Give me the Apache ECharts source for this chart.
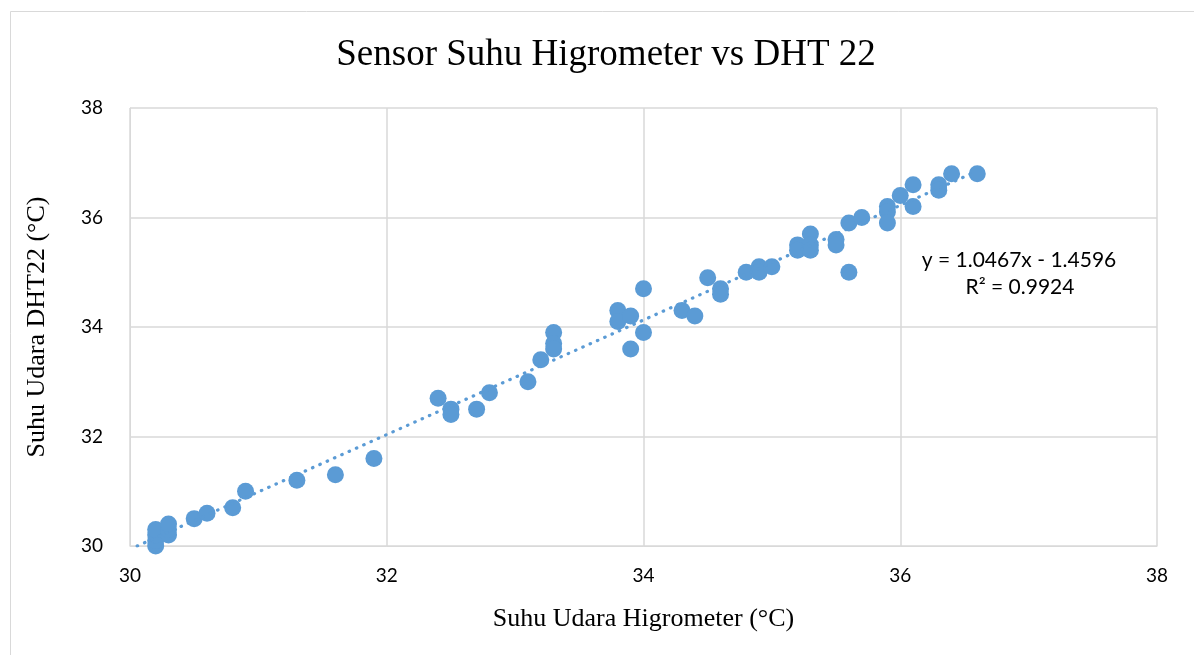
<!DOCTYPE html>
<html>
<head>
<meta charset="utf-8">
<script src="https://cdn.jsdelivr.net/npm/echarts@6/dist/echarts.min.js"></script>
<style>
  html, body { margin: 0; padding: 0; background: #fff; }
  #chart { width: 1194px; height: 655px; }
</style>
</head>
<body>
<div id="chart"></div>
<script>
// hygrometer readings (x) vs DHT22 readings (y), in °C
var higrometer = [
    30.2, 30.2, 30.2, 30.2, 30.3, 30.3, 30.3, 30.5, 30.6, 30.8, 30.9, 31.3, 31.6, 31.9,
    32.4, 32.5, 32.5, 32.7, 32.8, 33.1, 33.2, 33.3, 33.3, 33.3, 33.8, 33.8, 33.9, 33.9,
    34.0, 34.0, 34.3, 34.4, 34.5, 34.6, 34.6, 34.8, 34.9, 34.9, 35.0, 35.2, 35.2, 35.3,
    35.3, 35.3, 35.5, 35.5, 35.6, 35.6, 35.7, 35.9, 35.9, 35.9, 36.0, 36.1, 36.1, 36.3,
    36.3, 36.4, 36.6
];
var dht22 = [
    30.0, 30.1, 30.2, 30.3, 30.2, 30.3, 30.4, 30.5, 30.6, 30.7, 31.0, 31.2, 31.3, 31.6,
    32.7, 32.5, 32.4, 32.5, 32.8, 33.0, 33.4, 33.9, 33.7, 33.6, 34.3, 34.1, 34.2, 33.6,
    33.9, 34.7, 34.3, 34.2, 34.9, 34.7, 34.6, 35.0, 35.1, 35.0, 35.1, 35.5, 35.4, 35.7,
    35.5, 35.4, 35.6, 35.5, 35.0, 35.9, 36.0, 36.2, 36.1, 35.9, 36.4, 36.6, 36.2, 36.6,
    36.5, 36.8, 36.8
];
// linear trendline as printed on the chart
var trendSlope = 1.0467;
var trendIntercept = -1.4596;
var trendR2 = 0.9924;
var axisTicks = [30, 32, 34, 36, 38];

var points = higrometer.map(function (x, i) { return [x, dht22[i]]; });
var xStart = (axisTicks[0] - trendIntercept) / trendSlope;
var xEnd = Math.max.apply(null, higrometer);
var trendLine = [
    [xStart, trendSlope * xStart + trendIntercept],
    [xEnd, trendSlope * xEnd + trendIntercept]
];

var serif = '"Liberation Serif", "Times New Roman", serif';
var sans = 'Lato, "Open Sans", sans-serif';

var chart = echarts.init(document.getElementById('chart'));
chart.setOption({
    animation: false,
    backgroundColor: '#fff',
    title: {
        text: 'Sensor Suhu Higrometer vs DHT 22',
        left: 601,
        textAlign: 'center',
        top: 32,
        textStyle: { fontFamily: serif, fontSize: 37, fontWeight: 'normal', color: '#000' }
    },
    grid: { left: 130, right: 37, top: 108, bottom: 109 },
    xAxis: {
        type: 'value',
        min: axisTicks[0], max: axisTicks[axisTicks.length - 1], interval: 2,
        name: 'Suhu Udara Higrometer (°C)',
        nameLocation: 'middle',
        nameGap: 60,
        nameTextStyle: { fontFamily: serif, fontSize: 26, color: '#000' },
        axisLine: { lineStyle: { color: '#d9d9d9', width: 1 } },
        axisTick: { show: false },
        axisLabel: { fontFamily: sans, fontSize: 19, color: '#000', margin: 20 },
        splitLine: { show: true, lineStyle: { color: '#d9d9d9', width: 1.5 } }
    },
    yAxis: {
        type: 'value',
        min: axisTicks[0], max: axisTicks[axisTicks.length - 1], interval: 2,
        name: 'Suhu Udara DHT22 (°C)',
        nameLocation: 'middle',
        nameGap: 80,
        nameTextStyle: { fontFamily: serif, fontSize: 26, color: '#000' },
        axisLine: { show: true, lineStyle: { color: '#d9d9d9', width: 1 } },
        axisTick: { show: false },
        axisLabel: { fontFamily: sans, fontSize: 19, color: '#000', margin: 27 },
        splitLine: { show: true, lineStyle: { color: '#d9d9d9', width: 1.5 } }
    },
    graphic: [
        {
            type: 'rect',
            shape: { x: 10.5, y: 11.5, width: 1200, height: 700 },
            style: { fill: 'none', stroke: '#d9d9d9', lineWidth: 1 },
            silent: true
        },
        {
            type: 'text',
            x: 1019, y: 250,
            style: {
                text: 'y = ' + trendSlope.toFixed(4) + 'x - ' + Math.abs(trendIntercept).toFixed(4),
                font: '21px ' + sans, fill: '#000', align: 'center'
            }
        },
        {
            type: 'text',
            x: 1020, y: 277,
            style: { text: 'R² = ' + trendR2.toFixed(4), font: '21px ' + sans, fill: '#000', align: 'center' }
        }
    ],
    series: [
        {
            type: 'line',
            data: trendLine,
            symbol: 'none',
            silent: true,
            z: 3,
            lineStyle: { color: '#5b9bd5', width: 3.2, type: [0.5, 7.5], cap: 'round' }
        },
        {
            type: 'scatter',
            data: points,
            symbol: 'circle',
            symbolSize: 17,
            z: 2,
            itemStyle: { color: '#5b9bd5', opacity: 1 }
        }
    ]
});
</script>
</body>
</html>
